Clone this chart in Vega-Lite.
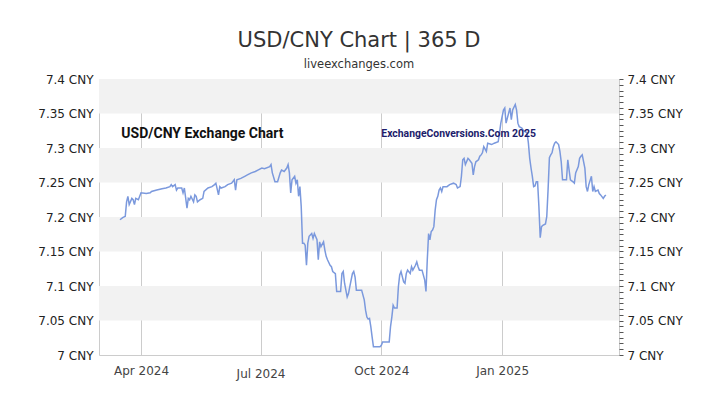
{
  "$schema": "https://vega.github.io/schema/vega-lite/v6.json",
  "width": 520,
  "height": 276,
  "autosize": {"type": "none"},
  "padding": {"left": 99, "top": 79, "right": 101, "bottom": 50},
  "background": "white",
  "config": {
    "view": {"stroke": "#cccccc", "strokeWidth": 1},
    "axis": {"labelFont": "DejaVu Sans", "titleFont": "DejaVu Sans"}
  },
  "title": {
    "text": "USD/CNY Chart | 365 D",
    "subtitle": "liveexchanges.com",
    "anchor": "middle",
    "font": "DejaVu Sans",
    "fontSize": 21,
    "fontWeight": "normal",
    "color": "#333333",
    "subtitleFont": "DejaVu Sans",
    "subtitleFontSize": 11.5,
    "subtitleColor": "#333333",
    "subtitlePadding": 8,
    "offset": 3
  },
  "datasets": {
    "bands": [
      {"lo": 7.05, "hi": 7.1},
      {"lo": 7.15, "hi": 7.2},
      {"lo": 7.25, "hi": 7.3},
      {"lo": 7.35, "hi": 7.4}
    ],
    "rates": [
      {"date": "2024-03-16", "rate": 7.196},
      {"date": "2024-03-18", "rate": 7.199},
      {"date": "2024-03-20", "rate": 7.201},
      {"date": "2024-03-21", "rate": 7.222},
      {"date": "2024-03-22", "rate": 7.230},
      {"date": "2024-03-23", "rate": 7.218},
      {"date": "2024-03-25", "rate": 7.227},
      {"date": "2024-03-26", "rate": 7.225},
      {"date": "2024-03-27", "rate": 7.218},
      {"date": "2024-03-28", "rate": 7.227},
      {"date": "2024-03-30", "rate": 7.225},
      {"date": "2024-04-01", "rate": 7.235},
      {"date": "2024-04-05", "rate": 7.234},
      {"date": "2024-04-08", "rate": 7.235},
      {"date": "2024-04-09", "rate": 7.237},
      {"date": "2024-04-13", "rate": 7.239},
      {"date": "2024-04-17", "rate": 7.241},
      {"date": "2024-04-20", "rate": 7.242},
      {"date": "2024-04-23", "rate": 7.244},
      {"date": "2024-04-24", "rate": 7.247},
      {"date": "2024-04-25", "rate": 7.244},
      {"date": "2024-04-27", "rate": 7.247},
      {"date": "2024-04-28", "rate": 7.239},
      {"date": "2024-04-29", "rate": 7.242},
      {"date": "2024-05-02", "rate": 7.242},
      {"date": "2024-05-03", "rate": 7.235},
      {"date": "2024-05-04", "rate": 7.242},
      {"date": "2024-05-06", "rate": 7.213},
      {"date": "2024-05-07", "rate": 7.227},
      {"date": "2024-05-08", "rate": 7.225},
      {"date": "2024-05-09", "rate": 7.230},
      {"date": "2024-05-11", "rate": 7.222},
      {"date": "2024-05-12", "rate": 7.232},
      {"date": "2024-05-13", "rate": 7.230},
      {"date": "2024-05-14", "rate": 7.222},
      {"date": "2024-05-16", "rate": 7.225},
      {"date": "2024-05-18", "rate": 7.227},
      {"date": "2024-05-19", "rate": 7.237},
      {"date": "2024-05-22", "rate": 7.242},
      {"date": "2024-05-25", "rate": 7.244},
      {"date": "2024-05-27", "rate": 7.247},
      {"date": "2024-05-28", "rate": 7.249},
      {"date": "2024-05-30", "rate": 7.232},
      {"date": "2024-05-31", "rate": 7.244},
      {"date": "2024-06-01", "rate": 7.242},
      {"date": "2024-06-04", "rate": 7.244},
      {"date": "2024-06-06", "rate": 7.247},
      {"date": "2024-06-09", "rate": 7.249},
      {"date": "2024-06-11", "rate": 7.254},
      {"date": "2024-06-12", "rate": 7.239},
      {"date": "2024-06-13", "rate": 7.254},
      {"date": "2024-06-16", "rate": 7.256},
      {"date": "2024-06-19", "rate": 7.259},
      {"date": "2024-06-21", "rate": 7.261},
      {"date": "2024-06-24", "rate": 7.264},
      {"date": "2024-06-27", "rate": 7.266},
      {"date": "2024-06-29", "rate": 7.268},
      {"date": "2024-07-02", "rate": 7.271},
      {"date": "2024-07-04", "rate": 7.270},
      {"date": "2024-07-08", "rate": 7.273},
      {"date": "2024-07-09", "rate": 7.276},
      {"date": "2024-07-10", "rate": 7.264},
      {"date": "2024-07-12", "rate": 7.251},
      {"date": "2024-07-14", "rate": 7.251},
      {"date": "2024-07-16", "rate": 7.264},
      {"date": "2024-07-17", "rate": 7.268},
      {"date": "2024-07-19", "rate": 7.266},
      {"date": "2024-07-21", "rate": 7.271},
      {"date": "2024-07-22", "rate": 7.276},
      {"date": "2024-07-23", "rate": 7.264},
      {"date": "2024-07-24", "rate": 7.235},
      {"date": "2024-07-25", "rate": 7.254},
      {"date": "2024-07-27", "rate": 7.259},
      {"date": "2024-07-28", "rate": 7.249},
      {"date": "2024-07-29", "rate": 7.254},
      {"date": "2024-07-30", "rate": 7.230},
      {"date": "2024-07-31", "rate": 7.244},
      {"date": "2024-08-01", "rate": 7.215},
      {"date": "2024-08-02", "rate": 7.162},
      {"date": "2024-08-03", "rate": 7.162},
      {"date": "2024-08-04", "rate": 7.159},
      {"date": "2024-08-05", "rate": 7.130},
      {"date": "2024-08-06", "rate": 7.162},
      {"date": "2024-08-07", "rate": 7.172},
      {"date": "2024-08-09", "rate": 7.176},
      {"date": "2024-08-10", "rate": 7.169},
      {"date": "2024-08-11", "rate": 7.176},
      {"date": "2024-08-13", "rate": 7.167},
      {"date": "2024-08-14", "rate": 7.138},
      {"date": "2024-08-15", "rate": 7.164},
      {"date": "2024-08-16", "rate": 7.157},
      {"date": "2024-08-18", "rate": 7.164},
      {"date": "2024-08-19", "rate": 7.152},
      {"date": "2024-08-20", "rate": 7.143},
      {"date": "2024-08-21", "rate": 7.138},
      {"date": "2024-08-23", "rate": 7.130},
      {"date": "2024-08-24", "rate": 7.128},
      {"date": "2024-08-25", "rate": 7.121},
      {"date": "2024-08-27", "rate": 7.118},
      {"date": "2024-08-28", "rate": 7.092},
      {"date": "2024-08-29", "rate": 7.092},
      {"date": "2024-08-31", "rate": 7.092},
      {"date": "2024-09-01", "rate": 7.118},
      {"date": "2024-09-02", "rate": 7.121},
      {"date": "2024-09-03", "rate": 7.104},
      {"date": "2024-09-05", "rate": 7.084},
      {"date": "2024-09-06", "rate": 7.089},
      {"date": "2024-09-07", "rate": 7.099},
      {"date": "2024-09-09", "rate": 7.118},
      {"date": "2024-09-10", "rate": 7.121},
      {"date": "2024-09-11", "rate": 7.113},
      {"date": "2024-09-12", "rate": 7.094},
      {"date": "2024-09-14", "rate": 7.094},
      {"date": "2024-09-16", "rate": 7.094},
      {"date": "2024-09-18", "rate": 7.080},
      {"date": "2024-09-19", "rate": 7.065},
      {"date": "2024-09-20", "rate": 7.055},
      {"date": "2024-09-21", "rate": 7.052},
      {"date": "2024-09-22", "rate": 7.053},
      {"date": "2024-09-23", "rate": 7.041},
      {"date": "2024-09-24", "rate": 7.026},
      {"date": "2024-09-25", "rate": 7.012},
      {"date": "2024-09-27", "rate": 7.012},
      {"date": "2024-09-30", "rate": 7.012},
      {"date": "2024-10-01", "rate": 7.014},
      {"date": "2024-10-02", "rate": 7.019},
      {"date": "2024-10-04", "rate": 7.019},
      {"date": "2024-10-07", "rate": 7.019},
      {"date": "2024-10-08", "rate": 7.041},
      {"date": "2024-10-09", "rate": 7.055},
      {"date": "2024-10-10", "rate": 7.072},
      {"date": "2024-10-11", "rate": 7.068},
      {"date": "2024-10-13", "rate": 7.068},
      {"date": "2024-10-14", "rate": 7.099},
      {"date": "2024-10-15", "rate": 7.116},
      {"date": "2024-10-16", "rate": 7.121},
      {"date": "2024-10-18", "rate": 7.106},
      {"date": "2024-10-19", "rate": 7.104},
      {"date": "2024-10-20", "rate": 7.118},
      {"date": "2024-10-21", "rate": 7.123},
      {"date": "2024-10-23", "rate": 7.118},
      {"date": "2024-10-24", "rate": 7.128},
      {"date": "2024-10-25", "rate": 7.123},
      {"date": "2024-10-27", "rate": 7.130},
      {"date": "2024-10-28", "rate": 7.135},
      {"date": "2024-10-29", "rate": 7.128},
      {"date": "2024-10-30", "rate": 7.123},
      {"date": "2024-11-01", "rate": 7.123},
      {"date": "2024-11-03", "rate": 7.109},
      {"date": "2024-11-04", "rate": 7.092},
      {"date": "2024-11-05", "rate": 7.138},
      {"date": "2024-11-06", "rate": 7.176},
      {"date": "2024-11-07", "rate": 7.167},
      {"date": "2024-11-08", "rate": 7.179},
      {"date": "2024-11-09", "rate": 7.181},
      {"date": "2024-11-10", "rate": 7.186},
      {"date": "2024-11-11", "rate": 7.210},
      {"date": "2024-11-12", "rate": 7.225},
      {"date": "2024-11-13", "rate": 7.230},
      {"date": "2024-11-14", "rate": 7.239},
      {"date": "2024-11-15", "rate": 7.242},
      {"date": "2024-11-16", "rate": 7.237},
      {"date": "2024-11-17", "rate": 7.244},
      {"date": "2024-11-20", "rate": 7.244},
      {"date": "2024-11-22", "rate": 7.247},
      {"date": "2024-11-25", "rate": 7.249},
      {"date": "2024-11-27", "rate": 7.247},
      {"date": "2024-11-28", "rate": 7.242},
      {"date": "2024-11-30", "rate": 7.244},
      {"date": "2024-12-01", "rate": 7.259},
      {"date": "2024-12-02", "rate": 7.283},
      {"date": "2024-12-03", "rate": 7.285},
      {"date": "2024-12-04", "rate": 7.276},
      {"date": "2024-12-06", "rate": 7.285},
      {"date": "2024-12-07", "rate": 7.283},
      {"date": "2024-12-09", "rate": 7.278},
      {"date": "2024-12-10", "rate": 7.261},
      {"date": "2024-12-11", "rate": 7.273},
      {"date": "2024-12-12", "rate": 7.280},
      {"date": "2024-12-14", "rate": 7.283},
      {"date": "2024-12-15", "rate": 7.288},
      {"date": "2024-12-16", "rate": 7.290},
      {"date": "2024-12-17", "rate": 7.293},
      {"date": "2024-12-18", "rate": 7.302},
      {"date": "2024-12-20", "rate": 7.295},
      {"date": "2024-12-21", "rate": 7.307},
      {"date": "2024-12-24", "rate": 7.305},
      {"date": "2024-12-26", "rate": 7.307},
      {"date": "2024-12-29", "rate": 7.309},
      {"date": "2024-12-30", "rate": 7.322},
      {"date": "2024-12-31", "rate": 7.336},
      {"date": "2025-01-02", "rate": 7.355},
      {"date": "2025-01-03", "rate": 7.358},
      {"date": "2025-01-04", "rate": 7.336},
      {"date": "2025-01-06", "rate": 7.351},
      {"date": "2025-01-07", "rate": 7.358},
      {"date": "2025-01-08", "rate": 7.341},
      {"date": "2025-01-09", "rate": 7.355},
      {"date": "2025-01-11", "rate": 7.363},
      {"date": "2025-01-12", "rate": 7.355},
      {"date": "2025-01-13", "rate": 7.336},
      {"date": "2025-01-14", "rate": 7.331},
      {"date": "2025-01-16", "rate": 7.329},
      {"date": "2025-01-17", "rate": 7.326},
      {"date": "2025-01-18", "rate": 7.324},
      {"date": "2025-01-20", "rate": 7.322},
      {"date": "2025-01-21", "rate": 7.307},
      {"date": "2025-01-22", "rate": 7.285},
      {"date": "2025-01-23", "rate": 7.271},
      {"date": "2025-01-24", "rate": 7.259},
      {"date": "2025-01-25", "rate": 7.244},
      {"date": "2025-01-26", "rate": 7.245},
      {"date": "2025-01-27", "rate": 7.251},
      {"date": "2025-01-28", "rate": 7.251},
      {"date": "2025-01-29", "rate": 7.215},
      {"date": "2025-01-30", "rate": 7.170},
      {"date": "2025-01-31", "rate": 7.186},
      {"date": "2025-02-01", "rate": 7.188},
      {"date": "2025-02-03", "rate": 7.190},
      {"date": "2025-02-04", "rate": 7.201},
      {"date": "2025-02-05", "rate": 7.240},
      {"date": "2025-02-06", "rate": 7.286},
      {"date": "2025-02-07", "rate": 7.290},
      {"date": "2025-02-08", "rate": 7.293},
      {"date": "2025-02-09", "rate": 7.302},
      {"date": "2025-02-10", "rate": 7.307},
      {"date": "2025-02-11", "rate": 7.309},
      {"date": "2025-02-13", "rate": 7.305},
      {"date": "2025-02-14", "rate": 7.295},
      {"date": "2025-02-15", "rate": 7.280},
      {"date": "2025-02-16", "rate": 7.254},
      {"date": "2025-02-17", "rate": 7.254},
      {"date": "2025-02-19", "rate": 7.254},
      {"date": "2025-02-20", "rate": 7.283},
      {"date": "2025-02-21", "rate": 7.268},
      {"date": "2025-02-22", "rate": 7.254},
      {"date": "2025-02-24", "rate": 7.251},
      {"date": "2025-02-25", "rate": 7.249},
      {"date": "2025-02-26", "rate": 7.264},
      {"date": "2025-02-28", "rate": 7.273},
      {"date": "2025-03-01", "rate": 7.285},
      {"date": "2025-03-02", "rate": 7.288},
      {"date": "2025-03-03", "rate": 7.290},
      {"date": "2025-03-05", "rate": 7.271},
      {"date": "2025-03-06", "rate": 7.244},
      {"date": "2025-03-07", "rate": 7.237},
      {"date": "2025-03-08", "rate": 7.247},
      {"date": "2025-03-10", "rate": 7.259},
      {"date": "2025-03-11", "rate": 7.237},
      {"date": "2025-03-12", "rate": 7.244},
      {"date": "2025-03-13", "rate": 7.237},
      {"date": "2025-03-15", "rate": 7.239},
      {"date": "2025-03-16", "rate": 7.234},
      {"date": "2025-03-17", "rate": 7.232},
      {"date": "2025-03-19", "rate": 7.227},
      {"date": "2025-03-20", "rate": 7.230},
      {"date": "2025-03-21", "rate": 7.232}
    ],
    "notes": [
      {"date": "2024-03-17", "rate": 7.32, "label": "USD/CNY Exchange Chart", "kind": "main"},
      {"date": "2024-10-01", "rate": 7.32, "label": "ExchangeConversions.Com 2025", "kind": "credit"}
    ]
  },
  "resolve": {"axis": {"y": "independent"}},
  "layer": [
    {
      "data": {"name": "bands"},
      "mark": {"type": "rect", "fill": "#f2f2f2"},
      "encoding": {
        "y": {
          "field": "lo", "type": "quantitative",
          "scale": {"domain": [7, 7.4], "nice": false, "zero": false},
          "axis": {
            "orient": "left",
            "title": null,
            "values": [7, 7.05, 7.1, 7.15, 7.2, 7.25, 7.3, 7.35, 7.4],
            "labelExpr": "toString(round(datum.value*100)/100) + ' CNY'",
            "ticks": false,
            "domain": false,
            "grid": false,
            "labelPadding": 6,
            "labelFontSize": 12,
            "labelColor": "#222222"
          }
        },
        "y2": {"field": "hi"}
      }
    },
    {
      "data": {"name": "rates"},
      "mark": {"type": "line", "color": "#7b99dd", "strokeWidth": 1.5, "interpolate": "linear"},
      "encoding": {
        "x": {
          "field": "date", "type": "temporal",
          "scale": {
            "type": "utc",
            "domain": [
              {"year": 2024, "month": 2, "date": 29, "utc": true},
              {"year": 2025, "month": 3, "date": 31, "utc": true}
            ]
          },
          "axis": {
            "title": null,
            "values": [
              {"year": 2024, "month": 4, "date": 1, "utc": true},
              {"year": 2024, "month": 7, "date": 1, "utc": true},
              {"year": 2024, "month": 10, "date": 1, "utc": true},
              {"year": 2025, "month": 1, "date": 1, "utc": true}
            ],
            "labelExpr": "utcFormat(datum.value, '%b %Y')",
            "grid": true,
            "gridColor": "#cccccc",
            "gridWidth": 1,
            "ticks": false,
            "domain": false,
            "labelFontSize": 12,
            "labelColor": "#444444",
            "labelPadding": {"condition": {"test": "utcmonth(datum.value) == 6", "value": 13}, "value": 10}
          }
        },
        "y": {
          "field": "rate", "type": "quantitative",
          "axis": {
            "orient": "right",
            "title": null,
            "values": [7, 7.00833, 7.01667, 7.025, 7.03333, 7.04167, 7.05, 7.05833, 7.06667, 7.075, 7.08333, 7.09167, 7.1, 7.10833, 7.11667, 7.125, 7.13333, 7.14167, 7.15, 7.15833, 7.16667, 7.175, 7.18333, 7.19167, 7.2, 7.20833, 7.21667, 7.225, 7.23333, 7.24167, 7.25, 7.25833, 7.26667, 7.275, 7.28333, 7.29167, 7.3, 7.30833, 7.31667, 7.325, 7.33333, 7.34167, 7.35, 7.35833, 7.36667, 7.375, 7.38333, 7.39167, 7.4],
            "labelExpr": "abs(datum.value*20 - round(datum.value*20)) < 0.001 ? toString(round(datum.value*100)/100) + ' CNY' : ''",
            "labelOverlap": false,
            "ticks": true,
            "tickSize": 4,
            "tickColor": "#555555",
            "domain": false,
            "grid": false,
            "labelPadding": 4,
            "labelFontSize": 12,
            "labelColor": "#222222"
          }
        }
      }
    },
    {
      "data": {"name": "notes"},
      "transform": [{"filter": "datum.kind == 'main'"}],
      "mark": {"type": "text", "align": "left", "baseline": "middle", "font": "Roboto", "fontWeight": "bold", "fontSize": 14, "color": "#111111"},
      "encoding": {
        "x": {
          "field": "date", "type": "temporal",
          "axis": {
            "title": null,
            "values": [
              {"year": 2024, "month": 4, "date": 1, "utc": true},
              {"year": 2024, "month": 7, "date": 1, "utc": true},
              {"year": 2024, "month": 10, "date": 1, "utc": true},
              {"year": 2025, "month": 1, "date": 1, "utc": true}
            ],
            "labelExpr": "utcFormat(datum.value, '%b %Y')",
            "grid": true,
            "gridColor": "#cccccc",
            "gridWidth": 1,
            "ticks": false,
            "domain": false,
            "labelFontSize": 12,
            "labelColor": "#444444",
            "labelPadding": {"condition": {"test": "utcmonth(datum.value) == 6", "value": 13}, "value": 10}
          }
        },
        "y": {"field": "rate", "type": "quantitative", "axis": null},
        "text": {"field": "label"}
      }
    },
    {
      "data": {"name": "notes"},
      "transform": [{"filter": "datum.kind == 'credit'"}],
      "mark": {"type": "text", "align": "left", "baseline": "middle", "font": "Roboto", "fontWeight": "bold", "fontSize": 10.4, "color": "#1c1c6b"},
      "encoding": {
        "x": {
          "field": "date", "type": "temporal",
          "axis": {
            "title": null,
            "values": [
              {"year": 2024, "month": 4, "date": 1, "utc": true},
              {"year": 2024, "month": 7, "date": 1, "utc": true},
              {"year": 2024, "month": 10, "date": 1, "utc": true},
              {"year": 2025, "month": 1, "date": 1, "utc": true}
            ],
            "labelExpr": "utcFormat(datum.value, '%b %Y')",
            "grid": true,
            "gridColor": "#cccccc",
            "gridWidth": 1,
            "ticks": false,
            "domain": false,
            "labelFontSize": 12,
            "labelColor": "#444444",
            "labelPadding": {"condition": {"test": "utcmonth(datum.value) == 6", "value": 13}, "value": 10}
          }
        },
        "y": {"field": "rate", "type": "quantitative", "axis": null},
        "text": {"field": "label"}
      }
    }
  ]
}
